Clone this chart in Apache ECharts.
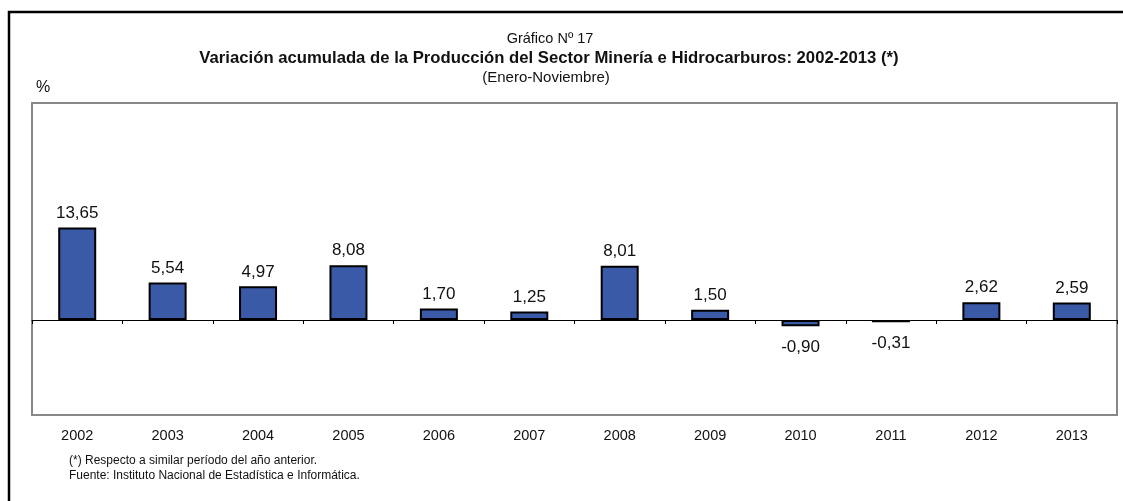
<!DOCTYPE html>
<html>
<head>
<meta charset="utf-8">
<script src="https://cdn.jsdelivr.net/npm/echarts@6/dist/echarts.min.js"></script>
<style>
  html, body { margin: 0; padding: 0; background: #fff; }
  #chart { width: 1123px; height: 501px; }
</style>
</head>
<body>
<div id="chart"></div>
<script>
// datos del gráfico
const years = ['2002', '2003', '2004', '2005', '2006', '2007', '2008', '2009', '2010', '2011', '2012', '2013']
const variacion = [13.65, 5.54, 4.97, 8.08, 1.70, 1.25, 8.01, 1.50, -0.90, -0.31, 2.62, 2.59]

const font = "'Liberation Sans', Arial, sans-serif"

const fmt = v => v.toFixed(2).replace('.', ',')

// texto centrado en (x, y)
const txt = (x, y, text, f, align) => ({
  type: 'text',
  x: x,
  y: y,
  style: { text: text, font: f, fill: '#111', align: align || 'center', verticalAlign: 'middle' }
})

let myChart = echarts.init(document.getElementById('chart'))
myChart.setOption({
  backgroundColor: '#fff',
  animation: false,
  graphic: [
    {
      type: 'rect',
      shape: { x: 9, y: 12, width: 1300, height: 700 },
      style: { fill: 'none', stroke: '#000', lineWidth: 2.5 }
    },
    txt(550, 39, 'Gráfico Nº 17', '14.5px ' + font),
    txt(549, 58, 'Variación acumulada de la Producción del Sector Minería e Hidrocarburos: 2002-2013 (*)', 'bold 16.7px ' + font),
    txt(546, 78, '(Enero-Noviembre)', '15px ' + font),
    txt(36, 88, '%', '16px ' + font, 'left'),
    txt(69, 461, '(*) Respecto a similar período del año anterior.', '12px ' + font, 'left'),
    txt(69, 476, 'Fuente: Instituto Nacional de Estadística e Informática.', '12px ' + font, 'left')
  ],
  grid: {
    left: 32,
    right: 6,
    top: 103,
    bottom: 86,
    show: true,
    borderColor: '#888',
    borderWidth: 2
  },
  xAxis: [{
    type: 'category',
    data: years,
    axisLine: { onZero: true, lineStyle: { color: '#000', width: 1 } },
    axisTick: { show: true, length: 4, lineStyle: { color: '#000' } },
    axisLabel: { show: false }
  }, {
    type: 'category',
    data: years,
    position: 'bottom',
    axisLine: { show: false, onZero: false },
    axisTick: { show: false },
    axisLabel: { margin: 13, fontFamily: font, fontSize: 14.5, color: '#111' }
  }],
  yAxis: {
    type: 'value',
    min: -14,
    max: 32,
    axisLine: { show: false },
    axisTick: { show: false },
    axisLabel: { show: false },
    splitLine: { show: false }
  },
  series: [{
    type: 'bar',
    xAxisIndex: 0,
    barWidth: 38,
    itemStyle: {
      color: '#3A5AA8',
      borderColor: '#000',
      borderWidth: 2
    },
    label: {
      show: true,
      position: 'top',
      distance: 6,
      fontFamily: font,
      fontSize: 17,
      color: '#111',
      formatter: p => fmt(p.value)
    },
    data: variacion.map(v => v < 0
      ? { value: v, label: { position: 'bottom', distance: 13 } }
      : v)
  }]
})
</script>
</body>
</html>
